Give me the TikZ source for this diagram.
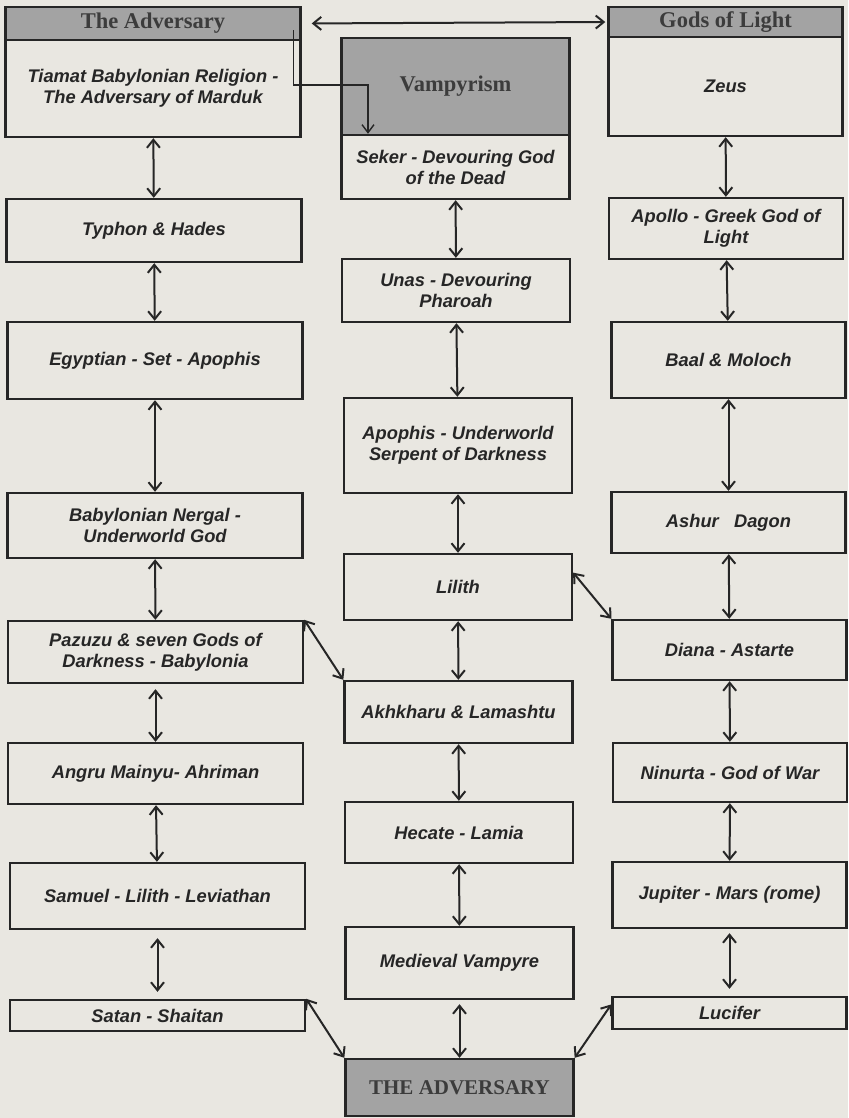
\documentclass[tikz,border=0pt]{standalone}
\usepackage{fontspec}
\setmainfont{Liberation Serif}
\newfontfamily\godfont{Liberation Sans}
\usetikzlibrary{arrows.meta,calc}

\definecolor{paper}{RGB}{233,231,225}
\definecolor{ink}{RGB}{38,38,38}
\definecolor{shade}{RGB}{163,163,163}

\tikzset{
  godbox/.style={draw=ink, line width=2.4pt, inner sep=0pt, align=center, text=ink,
    font=\godfont\bfseries\itshape\fontsize{18.3}{21}\selectfont},
  headbox/.style={godbox, fill=shade, text=ink!90,
    font=\bfseries\fontsize{22.5}{24}\selectfont},
  leftcol/.style={minimum width=295pt},
  midcol/.style={minimum width=228pt},
  rightcol/.style={minimum width=234pt},
  tip/.style={Straight Barb[length=8pt,width=13pt]},
  link/.style={draw=ink, line width=2pt, {Straight Barb[length=8pt,width=13pt]}-{Straight Barb[length=8pt,width=13pt]}},
}

\begin{document}
\begin{tikzpicture}[x=1pt, y=-1pt]
    \useasboundingbox (0,0) rectangle (848,1118);
    \fill[paper] (0,0) rectangle (848,1118);

    % Left column
    \node[headbox, leftcol, minimum height=33pt] (adv) at (153,23.5) {The Adversary};
    \node[godbox, leftcol, minimum height=97pt] (tiamat) at (153,88.5)
      {Tiamat Babylonian Religion -\\The Adversary of Marduk};
    \node[godbox, leftcol, minimum height=63pt] (typhon) at (154,230.5) {Typhon \& Hades};
    \node[godbox, leftcol, minimum height=77pt] (egypt) at (155,360.5) {Egyptian - Set - Apophis};
    \node[godbox, leftcol, minimum height=65pt] (nergal) at (155,525.5)
      {Babylonian Nergal -\\Underworld God};
    \node[godbox, leftcol, minimum height=62pt] (pazuzu) at (155.5,652)
      {Pazuzu \& seven Gods of\\Darkness - Babylonia};
    \node[godbox, leftcol, minimum height=61pt] (angru) at (155.5,773.5) {Angru Mainyu- Ahriman};
    \node[godbox, leftcol, minimum height=66pt] (samuel) at (157.5,896)
      {Samuel - Lilith - Leviathan};
    \node[godbox, leftcol, minimum height=31pt] (satan) at (157.5,1015.5) {Satan - Shaitan};

    % Middle column
    \node[headbox, midcol, minimum height=97pt] (vamp) at (455.5,86.5) {Vampyrism};
    \node[godbox, midcol, minimum height=64pt] (seker) at (455.5,167)
      {Seker - Devouring God\\of the Dead};
    \node[godbox, midcol, minimum height=63pt] (unas) at (456,290.5) {Unas - Devouring\\Pharoah};
    \node[godbox, midcol, minimum height=95pt] (apophis) at (458,445.5)
      {Apophis - Underworld\\Serpent of Darkness};
    \node[godbox, midcol, minimum height=66pt] (lilith) at (458,587) {Lilith};
    \node[godbox, midcol, minimum height=62pt] (akh) at (458.5,712) {Akhkharu \& Lamashtu};
    \node[godbox, midcol, minimum height=61pt] (hecate) at (459,832.5) {Hecate - Lamia};
    \node[godbox, midcol, minimum height=72pt] (medieval) at (459.5,963) {Medieval Vampyre};
    \node[headbox, midcol, minimum height=57pt, font=\bfseries\fontsize{21}{23}\selectfont]
      (theadv) at (459.5,1087.5) {THE ADVERSARY};

    % Right column
    \node[headbox, rightcol, minimum height=30pt] (gods) at (725.5,22) {Gods of Light};
    \node[godbox, rightcol, minimum height=99pt] (zeus) at (725.5,86.5) {Zeus};
    \node[godbox, rightcol, minimum height=61pt] (apollo) at (726,228.5)
      {Apollo - Greek God of\\Light};
    \node[godbox, rightcol, minimum height=76pt] (baal) at (728.5,360) {Baal \& Moloch};
    \node[godbox, rightcol, minimum height=61pt] (ashur) at (728.5,522.5) {Ashur \ \ Dagon};
    \node[godbox, rightcol, minimum height=60pt] (diana) at (729.5,650) {Diana - Astarte};
    \node[godbox, rightcol, minimum height=59pt] (ninurta) at (730,772.5) {Ninurta - God of War};
    \node[godbox, rightcol, minimum height=66pt] (jupiter) at (729.5,895) {Jupiter - Mars (rome)};
    \node[godbox, rightcol, minimum height=32pt] (lucifer) at (729.5,1013) {Lucifer};

    % Connections
    \draw[link, shorten <=10pt, shorten >=2pt] (adv.east) -- (gods.west);
    \coordinate (tap) at ($(adv.south east)+(-8,-11)$);
    \coordinate (bend) at (368,85);
    \draw[draw=ink, line width=1.4pt, -{Straight Barb[length=8pt,width=12pt]}]
      (tap) |- (bend) -- (bend |- seker.north);

    \foreach \a/\b in {tiamat/typhon, typhon/egypt, egypt/nergal, nergal/pazuzu,
                       seker/unas, unas/apophis, apophis/lilith, lilith/akh, akh/hecate,
                       zeus/apollo, apollo/baal, baal/ashur, ashur/diana, diana/ninurta} {
      \draw[link] (\a) -- (\b);
    }
    \draw[link, shorten <=5pt] (pazuzu) -- (angru);
    \draw[link] (angru) -- (samuel);
    \draw[link, shorten <=8pt, shorten >=7pt] (samuel) -- (satan);
    \draw[link] (hecate) -- (medieval);
    \draw[link, shorten <=4pt] (medieval) -- (theadv);
    \draw[link] (ninurta) -- (jupiter);
    \draw[link, shorten <=4pt, shorten >=7pt] (jupiter) -- (lucifer);

    % Cross links
    \draw[link] (pazuzu.north east) -- (akh.north west);
    \draw[link] ($(lilith.north east)!0.29!(lilith.south east)$) -- (diana.north west);
    \draw[link] (satan.north east) -- (theadv.north west);
    \draw[link] (theadv.north east) -- ($(lucifer.north west)!0.25!(lucifer.south west)$);
\end{tikzpicture}
\end{document}
